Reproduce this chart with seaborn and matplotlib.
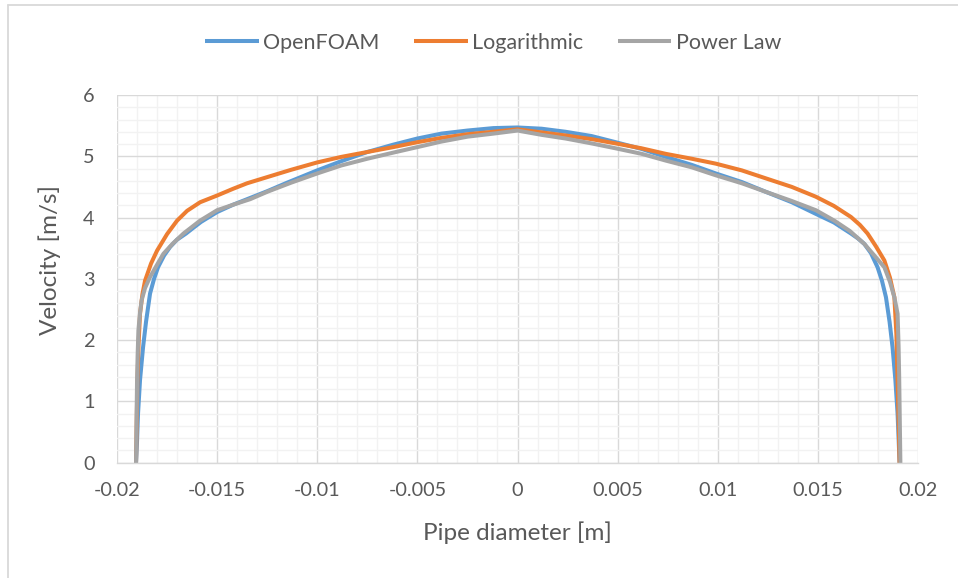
import matplotlib
matplotlib.use("Agg")
import matplotlib.pyplot as plt
from matplotlib.lines import Line2D
from matplotlib.ticker import MultipleLocator, FixedLocator, FixedFormatter
import seaborn as sns
import pandas as pd

# ---------------- data ----------------
openfoam_x = [-0.01905, -0.01900, -0.01895, -0.01885, -0.01870, -0.01855, -0.01835, -0.01815,
              -0.01795, -0.01765, -0.01735, -0.01700, -0.01655, -0.0162, -0.0158, -0.0154,
              -0.0150, -0.0142, -0.01335, -0.0125, -0.0115, -0.0100, -0.0088, -0.0075,
              -0.0062, -0.0050, -0.0038, -0.0025, -0.0012, 0.0, 0.0012, 0.0024, 0.0037,
              0.0049, 0.0062, 0.0074, 0.0087, 0.0099, 0.0112, 0.0124, 0.0137, 0.0149,
              0.0158, 0.01665, 0.01700, 0.01732, 0.01765, 0.01798, 0.0182, 0.0184,
              0.01858, 0.01873, 0.01887, 0.01898, 0.01903, 0.01908]
openfoam_v = [0.0, 0.35, 0.80, 1.35, 1.88, 2.30, 2.76, 3.00,
              3.19, 3.38, 3.52, 3.64, 3.74, 3.83, 3.93, 4.01,
              4.09, 4.21, 4.32, 4.43, 4.57, 4.77, 4.92, 5.07,
              5.19, 5.29, 5.37, 5.42, 5.46, 5.47, 5.45, 5.40, 5.33,
              5.23, 5.12, 4.99, 4.86, 4.72, 4.58, 4.42, 4.25, 4.06,
              3.92, 3.74, 3.66, 3.57, 3.42, 3.19, 2.97, 2.70,
              2.30, 1.88, 1.35, 0.80, 0.40, 0.0]

log_x = [-0.01905, -0.01902, -0.01898, -0.01892, -0.01885, -0.01873, -0.0186, -0.0183,
         -0.0180, -0.0175, -0.0170, -0.0165, -0.01585, -0.0150, -0.0142, -0.0135,
         -0.0125, -0.0113, -0.0100, -0.0088, -0.0075, -0.0062, -0.0050, -0.0038,
         -0.0025, -0.0012, 0.0, 0.0012, 0.0024, 0.0037, 0.0049, 0.0062, 0.0074,
         0.0087, 0.0099, 0.0112, 0.0124, 0.0137, 0.0149, 0.0158, 0.01665, 0.0171,
         0.01748, 0.0179, 0.01832, 0.0186, 0.01882, 0.01892, 0.01898, 0.01904, 0.01908]
log_v = [0.0, 0.60, 1.34, 1.95, 2.43, 2.75, 2.97, 3.25,
         3.46, 3.73, 3.95, 4.11, 4.25, 4.36, 4.47, 4.56,
         4.66, 4.78, 4.90, 4.99, 5.07, 5.15, 5.23, 5.30,
         5.36, 5.40, 5.44, 5.39, 5.34, 5.28, 5.21, 5.13, 5.04,
         4.96, 4.88, 4.77, 4.64, 4.50, 4.34, 4.19, 4.01, 3.88,
         3.74, 3.53, 3.30, 3.02, 2.70, 2.10, 1.34, 0.60, 0.0]

power_x = [-0.01905, -0.01902, -0.01900, -0.01897, -0.01893, -0.01885, -0.01877, -0.0186,
           -0.01835, -0.0180, -0.01768, -0.0172, -0.01668, -0.01585, -0.0150, -0.0142,
           -0.01335, -0.0125, -0.0113, -0.0100, -0.0088, -0.0075, -0.0062, -0.0050,
           -0.0038, -0.0025, -0.0012, 0.0, 0.0012, 0.0024, 0.0037, 0.0049, 0.0062,
           0.0074, 0.0087, 0.0099, 0.0112, 0.0124, 0.0137, 0.0149, 0.01582, 0.0166,
           0.01732, 0.0179, 0.01832, 0.0186, 0.01882, 0.01898, 0.01903, 0.01906,
           0.01909, 0.01912]
power_v = [0.0, 0.80, 1.30, 1.75, 2.16, 2.45, 2.65, 2.85,
           3.03, 3.23, 3.41, 3.58, 3.74, 3.95, 4.12, 4.21,
           4.30, 4.42, 4.57, 4.72, 4.85, 4.96, 5.06, 5.15,
           5.24, 5.32, 5.37, 5.42, 5.35, 5.29, 5.21, 5.13, 5.04,
           4.93, 4.82, 4.69, 4.56, 4.42, 4.27, 4.12, 3.95, 3.78,
           3.57, 3.35, 3.19, 2.95, 2.70, 2.43, 1.90, 1.40,
           0.70, 0.0]

series_names = ["OpenFOAM", "Logarithmic", "Power Law"]
xtick_values = [-0.02, -0.015, -0.01, -0.005, 0, 0.005, 0.01, 0.015, 0.02]
xtick_labels = ["-0.02", "-0.015", "-0.01", "-0.005", "0", "0.005", "0.01", "0.015", "0.02"]
ytick_values = [0, 1, 2, 3, 4, 5, 6]

frames = []
for name, xs, vs in zip(series_names, [openfoam_x, log_x, power_x], [openfoam_v, log_v, power_v]):
    frames.append(pd.DataFrame({"x": xs, "v": vs, "series": name}))
df = pd.concat(frames, ignore_index=True)

# ---------------- style ----------------
sns.set_style("white")
plt.rcParams['font.family'] = ['Lato', 'DejaVu Sans']
text_color = "#595959"
colors = {"OpenFOAM": "#5B9BD5", "Logarithmic": "#ED7D31", "Power Law": "#A5A5A5"}

fig = plt.figure(figsize=(9.58, 5.78), dpi=100)
ax = fig.add_axes([117/958, 1 - 462.7/578, (918-117)/958, (462.7-95)/578])

sns.lineplot(data=df, x="x", y="v", hue="series", hue_order=series_names,
             palette=colors, estimator=None, sort=False, linewidth=2.9, ax=ax,
             legend=False)
for ln in ax.get_lines():
    ln.set_solid_capstyle("round")
    ln.set_solid_joinstyle("round")

ax.set_xlim(-0.02, 0.02)
ax.set_ylim(0, 6)
ax.xaxis.set_major_locator(FixedLocator(xtick_values))
ax.xaxis.set_major_formatter(FixedFormatter(xtick_labels))
ax.xaxis.set_minor_locator(MultipleLocator(0.001))
ax.yaxis.set_major_locator(FixedLocator(ytick_values))
ax.yaxis.set_minor_locator(MultipleLocator(0.2))

ax.grid(which="minor", color="#F2F2F2", linewidth=1.0)
ax.grid(which="major", color="#D9D9D9", linewidth=1.0)
ax.set_axisbelow(True)
for s in ax.spines.values():
    s.set_visible(False)
ax.spines["bottom"].set_visible(True)
ax.spines["bottom"].set_color("#D9D9D9")
ax.spines["bottom"].set_linewidth(1.0)

ax.tick_params(axis="both", which="both", length=0, labelsize=14.3, colors=text_color)
ax.tick_params(axis="x", pad=14)
ax.tick_params(axis="y", pad=16)

ax.set_xlabel("Pipe diameter [m]", fontsize=17.5, color=text_color)
ax.set_ylabel("Velocity [m/s]", fontsize=17.5, color=text_color)
ax.xaxis.set_label_coords(0.5, (462.7-533)/(462.7-95))
ax.xaxis.label.set_va("center")
ax.yaxis.set_label_coords((50-117)/(918-117), (462.7-260)/(462.7-95))
ax.yaxis.label.set_va("center")

handles = [Line2D([0], [0], color=colors[n], lw=2.9, solid_capstyle="butt") for n in series_names]
leg = fig.legend(handles, series_names, loc="center", bbox_to_anchor=(493/958, 1 - 43/578),
                 ncol=3, frameon=False, fontsize=15.5, handlelength=2.5, handletextpad=0.2,
                 columnspacing=1.6, labelcolor=text_color)

# chart-area border (top and left visible)
fig.add_artist(Line2D([8/958, 1.0], [1 - 5/578, 1 - 5/578], color="#D9D9D9", lw=1.3,
                      transform=fig.transFigure))
fig.add_artist(Line2D([8/958, 8/958], [0.0, 1 - 5/578], color="#D9D9D9", lw=1.3,
                      transform=fig.transFigure))

fig.savefig("out.png", dpi=100)
